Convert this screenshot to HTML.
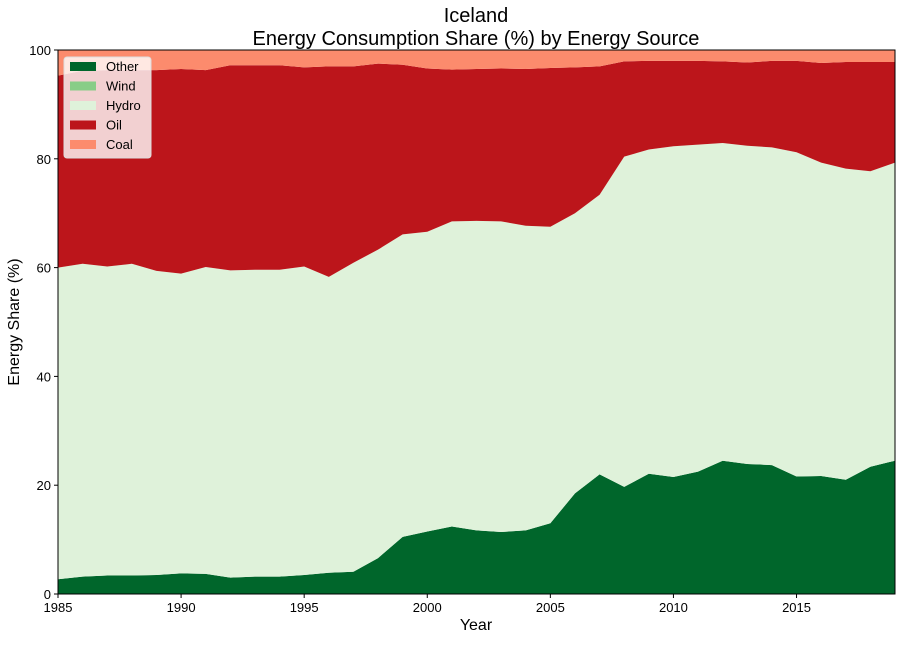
<!DOCTYPE html>
<html><head><meta charset="utf-8"><style>
body{margin:0;background:#fff;font-family:"Liberation Sans",sans-serif}
svg text{font-family:"Liberation Sans",sans-serif}
</style></head><body>
<svg id="chart" width="902" height="640" xmlns="http://www.w3.org/2000/svg">
<text x="476" y="22" font-size="20" text-anchor="middle">Iceland</text>
<text x="476" y="45" font-size="20" text-anchor="middle">Energy Consumption Share (%) by Energy Source</text>
<g id="areas"></g>
<rect x="58" y="50" width="837" height="544" fill="none" stroke="#000" stroke-width="1"/>
<g id="xaxis"></g>
<g id="yaxis"></g>
<text x="476" y="630" font-size="16" text-anchor="middle">Year</text>
<text x="19" y="322" font-size="16" text-anchor="middle" transform="rotate(-90 19 322)">Energy Share (%)</text>
<g id="legend"></g>
</svg>
<script>
const years=[1985,1986,1987,1988,1989,1990,1991,1992,1993,1994,1995,1996,1997,1998,1999,2000,2001,2002,2003,2004,2005,2006,2007,2008,2009,2010,2011,2012,2013,2014,2015,2016,2017,2018,2019];
const other=[2.7,3.2,3.4,3.4,3.5,3.8,3.7,3.0,3.2,3.2,3.5,3.9,4.1,6.6,10.5,11.5,12.4,11.7,11.4,11.7,13.0,18.5,22.0,19.7,22.1,21.5,22.5,24.5,23.9,23.7,21.6,21.7,21.0,23.4,24.5];
const wind=[0,0,0,0,0,0,0,0,0,0,0,0,0,0,0,0,0,0,0,0,0,0,0,0,0,0,0,0,0,0,0,0,0,0,0];
const hydro=[57.3,57.5,56.8,57.3,55.9,55.1,56.4,56.5,56.4,56.4,56.7,54.4,56.8,56.7,55.6,55.1,56.1,56.9,57.1,56.0,54.5,51.5,51.4,60.7,59.6,60.8,60.1,58.4,58.5,58.4,59.6,57.6,57.2,54.3,54.8];
const oil=[35.3,35.5,36.1,35.6,36.9,37.6,36.2,37.7,37.6,37.6,36.6,38.7,36.1,34.2,31.2,30.0,27.9,27.9,28.1,28.8,29.2,26.8,23.6,17.5,16.3,15.7,15.4,15.0,15.3,15.9,16.8,18.3,19.6,20.1,18.5];
const coal=[4.7,3.8,3.7,3.7,3.7,3.5,3.7,2.8,2.8,2.8,3.2,3.0,3.0,2.5,2.7,3.4,3.6,3.5,3.4,3.5,3.3,3.2,3.0,2.1,2.0,2.0,2.0,2.1,2.3,2.0,2.0,2.4,2.2,2.2,2.2];
const xTicks=[1985,1990,1995,2000,2005,2010,2015];
const yTicks=[0,20,40,60,80,100];
const seriesNames=["Other","Wind","Hydro","Oil","Coal"];
const seriesColors=["#00662b","#88cd87","#dff2da","#bc151b","#fc8b6d"];

const NS="http://www.w3.org/2000/svg";
const x0=58,x1=895,y0=594,y1=50;
const xs=v=>x0+(v-years[0])/(years[years.length-1]-years[0])*(x1-x0);
const ys=v=>y0-v/100*(y0-y1);
const series=[other,wind,hydro,oil,coal];
const areas=document.getElementById('areas');
let base=years.map(()=>0);
series.forEach((s,k)=>{
  const top=base.map((b,i)=>b+s[i]);
  let d="M"+years.map((y,i)=>xs(y)+","+ys(top[i])).join("L");
  for(let i=years.length-1;i>=0;i--) d+="L"+xs(years[i])+","+ys(base[i]);
  d+="Z";
  const p=document.createElementNS(NS,'path');
  p.setAttribute('d',d);p.setAttribute('fill',seriesColors[k]);
  
  
  areas.appendChild(p);
  base=top;
});
const xa=document.getElementById('xaxis');
xTicks.forEach(t=>{
  const l=document.createElementNS(NS,'line');
  l.setAttribute('x1',xs(t));l.setAttribute('x2',xs(t));l.setAttribute('y1',y0);l.setAttribute('y2',y0+4);l.setAttribute('stroke','#000');
  
  
  xa.appendChild(l);
  const tx=document.createElementNS(NS,'text');
  tx.setAttribute('x',xs(t));tx.setAttribute('y',y0+18);tx.setAttribute('font-size','13');tx.setAttribute('text-anchor','middle');
  tx.textContent=t;
  
  
  xa.appendChild(tx);
});
const ya=document.getElementById('yaxis');
yTicks.forEach(t=>{
  const l=document.createElementNS(NS,'line');
  l.setAttribute('x1',x0-4);l.setAttribute('x2',x0);l.setAttribute('y1',ys(t));l.setAttribute('y2',ys(t));l.setAttribute('stroke','#000');
  
  
  ya.appendChild(l);
  const tx=document.createElementNS(NS,'text');
  tx.setAttribute('x',x0-7);tx.setAttribute('y',ys(t)+5);tx.setAttribute('font-size','13');tx.setAttribute('text-anchor','end');
  tx.textContent=t;
  
  
  ya.appendChild(tx);
});
const lg=document.getElementById('legend');
const bg=document.createElementNS(NS,'rect');
bg.setAttribute('x',64);bg.setAttribute('y',57);bg.setAttribute('width',87);bg.setAttribute('height',101);bg.setAttribute('rx',3);
bg.setAttribute('fill','rgba(255,255,255,0.8)');bg.setAttribute('stroke','#ddd');


lg.appendChild(bg);
seriesNames.forEach((n,i)=>{
  const y=62+i*19.5;
  const r=document.createElementNS(NS,'rect');
  r.setAttribute('x',70);r.setAttribute('y',y);r.setAttribute('width',26);r.setAttribute('height',9);r.setAttribute('fill',seriesColors[i]);
  
  
  lg.appendChild(r);
  const t=document.createElementNS(NS,'text');
  t.setAttribute('x',106);t.setAttribute('y',y+9);t.setAttribute('font-size','13');t.textContent=n;
  
  
  lg.appendChild(t);
});
</script>
</body></html>
